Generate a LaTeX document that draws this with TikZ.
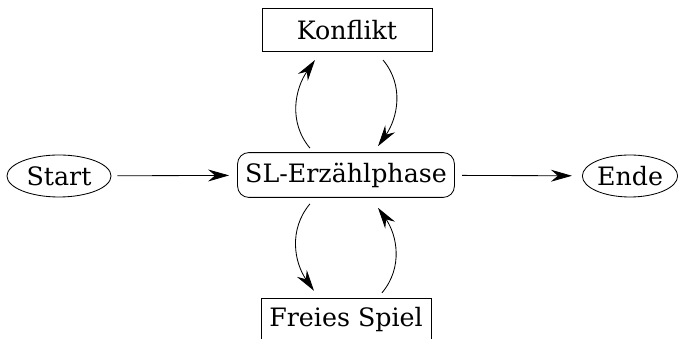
\documentclass[tikz,border=0pt]{standalone}
\usepackage{fontspec}
\setmainfont{DejaVu Serif}
\usetikzlibrary{shapes.geometric,arrows.meta,positioning}

\begin{document}
\begin{tikzpicture}[x=0.025cm,y=-0.025cm,line width=0.6pt,
  font=\fontsize{18}{21}\selectfont,
  zustand/.style={draw,rectangle,minimum width=4.25cm,minimum height=1.08cm},
  phase/.style={draw,rectangle,rounded corners=8pt,minimum width=5.42cm,minimum height=1.12cm},
  terminal/.style={draw,ellipse,inner sep=0pt,minimum height=1.05cm},
  pfeil/.style={-{Stealth[length=15pt,width=8.5pt,inset=5pt]}}]
\clip (0,0) rectangle (678,339);
\node[zustand] (konflikt) at (347,30) {Konflikt};
\node[phase] (sl) at (346,175) {SL-Erzählphase};
\node[zustand] (spiel) at (346,320) {Freies Spiel};
\node[terminal,minimum width=2.6cm] (start) at (59,176) {Start};
\node[terminal,minimum width=2.38cm] (ende) at (630,176) {Ende};
\path[pfeil]
(start) edge [shorten <=0.15cm,shorten >=0.2cm]
(sl)
(sl) edge [shorten <=0.18cm,shorten >=0.25cm]
(ende)
([xshift=-0.9cm,yshift=0.1cm]sl.north) edge [out=130,in=235]
([xshift=-0.8cm,yshift=-0.2cm]konflikt.south)
([xshift=0.9cm,yshift=-0.2cm]konflikt.south) edge [out=-50,in=55]
([xshift=0.8cm,yshift=0.15cm]sl.north)
([xshift=-0.9cm,yshift=-0.15cm]sl.south) edge [out=230,in=125]
([xshift=-0.8cm,yshift=0.18cm]spiel.north)
([xshift=0.9cm,yshift=0.13cm]spiel.north) edge [out=50,in=-55]
([xshift=0.8cm,yshift=-0.25cm]sl.south);
\end{tikzpicture}
\end{document}
